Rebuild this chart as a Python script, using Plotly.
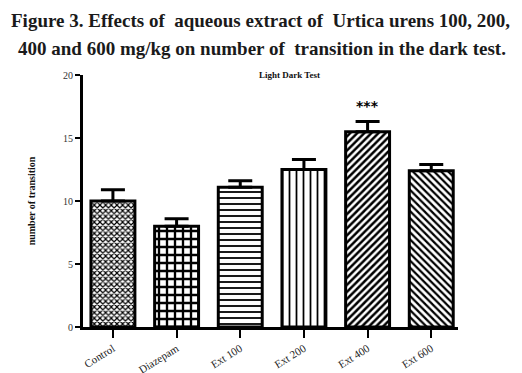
import plotly.graph_objects as go

categories = ["Control", "Diazepam", "Ext 100", "Ext 200", "Ext 400", "Ext 600"]
means = [10.0, 8.0, 11.1, 12.5, 15.5, 12.4]
sem = [0.9, 0.6, 0.5, 0.8, 0.8, 0.5]
patterns = ["x", "+", "-", "|", "/", "\\"]
pattern_sizes = [4, 8, 6, 7, 5, 5]
pattern_solidity = [0.5, 0.5, 0.3, 0.25, 0.5, 0.45]
y_ticks = [0, 5, 10, 15, 20]

fig = go.Figure()
fig.add_trace(go.Bar(
    x=categories, y=means, width=0.69,
    marker=dict(color="white", line=dict(color="black", width=3),
                pattern=dict(shape=patterns, size=pattern_sizes, solidity=pattern_solidity,
                             fgcolor="black", bgcolor="white", fillmode="replace")),
    error_y=dict(type="data", array=sem, arrayminus=[0]*6, symmetric=False,
                 color="black", thickness=3, width=12),
))

serif = "Liberation Serif"
fig.update_layout(
    width=514, height=365,
    margin=dict(l=75, r=64, t=67, b=46),
    plot_bgcolor="white", paper_bgcolor="white",
    showlegend=False,
    font=dict(family=serif, color="#222"),
    xaxis=dict(range=[-0.47, 5.42], showline=True, linecolor="black", linewidth=3,
               ticks="outside", ticklen=8, tickwidth=2, tickcolor="black",
               tickangle=-32, tickfont=dict(size=11, family=serif, color="#222"),
               showgrid=False, zeroline=False, automargin=False),
    yaxis=dict(range=[0, 20], tickvals=y_ticks, showline=True, linecolor="black", linewidth=3,
               ticks="outside", ticklen=5, tickwidth=2, tickcolor="black",
               tickfont=dict(size=10, family=serif, color="#333"),
               title=dict(text="<b>number of transition</b>", font=dict(size=10, family=serif, color="#111"), standoff=26),
               showgrid=False, zeroline=False, automargin=False),
    annotations=[
        dict(text="<b>Figure 3. Effects of  aqueous extract of  Urtica urens 100, 200,</b>",
             xref="paper", yref="paper", x=0.472, y=1.0, yshift=55, xanchor="center", yanchor="middle",
             showarrow=False, font=dict(size=19, family=serif, color="#1a1a1a")),
        dict(text="<b>400 and 600 mg/kg on number of  transition in the dark test.</b>",
             xref="paper", yref="paper", x=0.477, y=1.0, yshift=27, xanchor="center", yanchor="middle",
             showarrow=False, font=dict(size=19, family=serif, color="#1a1a1a")),
        dict(text="<b>Light Dark Test</b>", xref="paper", yref="paper", x=0.55, y=1.0, yshift=0,
             xanchor="center", yanchor="middle", showarrow=False,
             font=dict(size=9, family=serif, color="#111")),
        dict(text="<b>***</b>", x="Ext 400", y=means[4] + sem[4], yshift=16, xref="x", yref="y",
             showarrow=False, font=dict(size=14, family="DejaVu Sans", color="black")),
    ],
)
fig.write_html("out.html")
